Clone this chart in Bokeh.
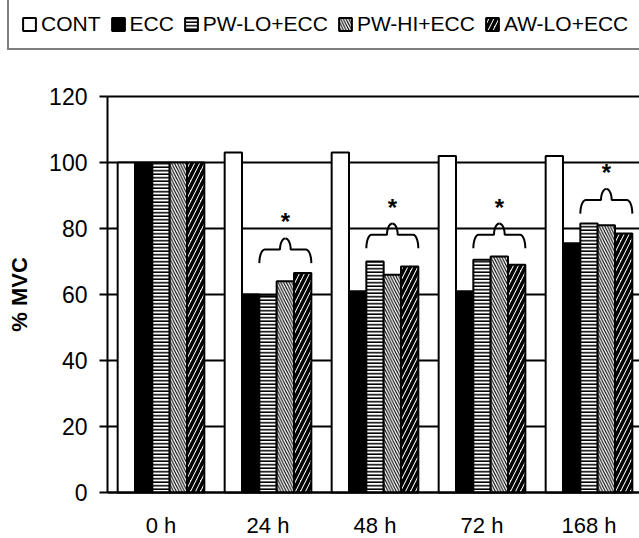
import numpy as np
from bokeh.plotting import figure
from bokeh.models import (Range1d, FixedTicker, Legend, LegendItem, ColumnDataSource,
                          LinearAxis)
from bokeh.core.properties import value
from bokeh.embed import file_html
from bokeh.resources import INLINE

# ---- data ----
times = ["0 h", "24 h", "48 h", "72 h", "168 h"]
series_names = ["CONT", "ECC", "PW-LO+ECC", "PW-HI+ECC", "AW-LO+ECC"]
cont = [100, 103, 103, 102, 102]
ecc = [100, 60, 61, 61, 75.5]
pw_lo = [100, 59.5, 70, 70.5, 81.5]
pw_hi = [100, 64, 66, 71.5, 81]
aw_lo = [100, 66.5, 68.5, 69, 78.5]
sig_times = [1, 2, 3, 4]            # groups marked with a brace and *
brace_base = [69.5, 74, 74, 84.5]   # lower ends of each brace (% MVC)
y_ticks = [0, 20, 40, 60, 80, 100, 120]

FONT = "Liberation Sans"
X_END = 4.972

styles = [
    dict(fill_color="white"),
    dict(fill_color="black"),
    dict(fill_color="white", hatch_pattern="horizontal_line", hatch_color="black",
         hatch_weight=1.6, hatch_scale=3.5),
    dict(fill_color="white", hatch_pattern="left_diagonal_line", hatch_color="black",
         hatch_weight=1.1, hatch_scale=5.5),
    dict(fill_color="white", hatch_pattern="right_diagonal_line", hatch_color="black",
         hatch_weight=3.5, hatch_scale=10),
]

# the frame fills the whole page; axes sit at fixed data locations inside it
p = figure(width=639, height=538, output_backend="svg", toolbar_location=None,
           x_range=Range1d(-1.0, X_END), y_range=Range1d(-13.94, 149.09),
           x_axis_type=None, y_axis_type=None,
           min_border_left=0, min_border_right=0, min_border_top=0, min_border_bottom=0)
p.outline_line_color = None
p.background_fill_color = "white"
p.border_fill_color = "white"
p.grid.visible = False

# horizontal grid lines (drawn first so the bars cover them)
p.segment(x0=[0] * len(y_ticks), x1=[X_END] * len(y_ticks), y0=y_ticks, y1=y_ticks,
          line_color="black", line_width=2)

yax = LinearAxis(fixed_location=0, bounds=(0, 120), ticker=FixedTicker(ticks=y_ticks))
yax.axis_line_width = 2
yax.major_tick_line_width = 2
yax.major_tick_out = 8
yax.major_tick_in = 0
yax.minor_tick_line_color = None
yax.major_label_text_font = FONT
yax.major_label_text_font_size = "23px"
yax.major_label_text_color = "black"
yax.major_label_standoff = 12
yax.axis_label = "% MVC"
yax.axis_label_text_font = FONT
yax.axis_label_text_font_size = "22px"
yax.axis_label_text_font_style = "bold"
yax.axis_label_text_color = "black"
yax.axis_label_standoff = 14
p.add_layout(yax, "left")

centers = [i + 0.5 for i in range(len(times))]
xax = LinearAxis(fixed_location=0, bounds=(0, X_END), ticker=FixedTicker(ticks=centers))
xax.major_label_overrides = {c: t for c, t in zip(centers, times)}
xax.axis_line_width = 2
xax.major_tick_line_color = None
xax.minor_tick_line_color = None
xax.major_label_text_font = FONT
xax.major_label_text_font_size = "22px"
xax.major_label_text_color = "black"
xax.major_label_standoff = 15
p.add_layout(xax, "below")

bw = 0.162
items = []
for k, (name, vals) in enumerate(zip(series_names, [cont, ecc, pw_lo, pw_hi, aw_lo])):
    xs = [c + (k - 2) * bw for c in centers]
    src = ColumnDataSource(dict(x=xs, top=vals))
    r = p.vbar(x="x", top="top", width=bw, bottom=0, source=src,
               line_color="black", line_width=2, **styles[k])
    items.append(LegendItem(label=name, renderers=[r]))

# braces and asterisks
bh = 7.5
rr = 0.05
ang = np.linspace(0, np.pi / 2, 8)
for t, base in zip(sig_times, brace_base):
    x0 = centers[t] - 0.5 * bw
    x1 = centers[t] + 2.5 * bw
    xm = (x0 + x1) / 2
    mid = base + bh * 0.55
    top = base + bh
    xs_l = list(x0 + rr * (1 - np.cos(ang))) + [xm - rr + rr * (1 - np.cos(a)) for a in ang]
    ys_l = list(base + (mid - base) * np.sin(ang)) + [mid + (top - mid) * np.sin(a) for a in ang]
    xs_r = [2 * xm - v for v in xs_l]
    p.line(xs_l, ys_l, line_color="black", line_width=2)
    p.line(xs_r, ys_l, line_color="black", line_width=2)
    p.text(x=[xm], y=[top + 5.0], text=["*"], text_align="center",
           text_baseline="middle", text_font=value(FONT),
           text_font_size="24px", text_font_style="bold", text_color="black")

legend = Legend(items=items, orientation="horizontal", location=(7, 488))
legend.label_text_font = FONT
legend.label_text_font_size = "21px"
legend.label_text_color = "black"
legend.glyph_width = 16
legend.glyph_height = 16
legend.label_height = 16
legend.label_standoff = 4
legend.spacing = 9
legend.padding = 12
legend.margin = 0
legend.border_line_color = "black"
legend.border_line_width = 2
legend.background_fill_color = "white"
legend.background_fill_alpha = 1
p.add_layout(legend, "center")

open("out.html", "w").write(file_html(p, INLINE))
